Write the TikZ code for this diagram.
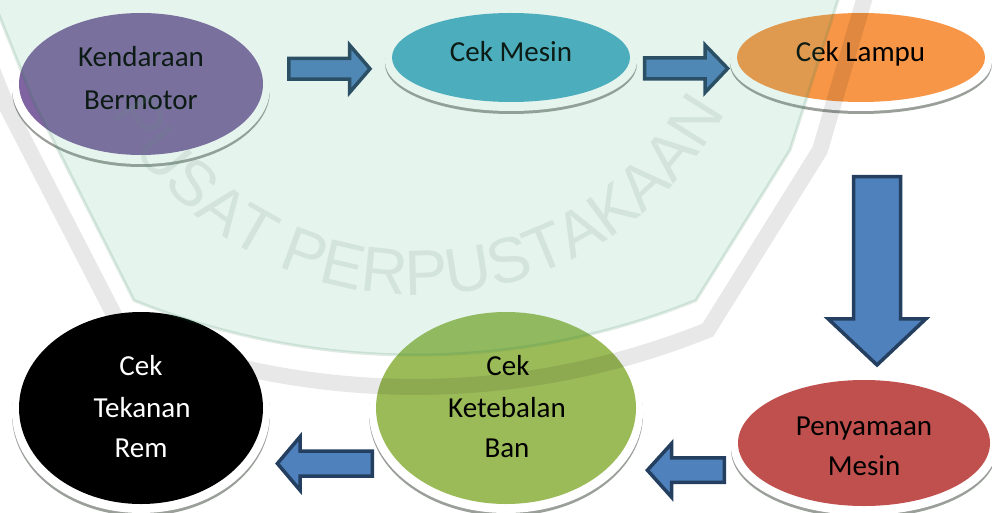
\documentclass[tikz,border=0pt]{standalone}
\usepackage{fontspec}
\setmainfont{Carlito}
\newfontfamily\wmfont{Liberation Sans}
\usetikzlibrary{shapes.geometric,decorations.text}
\definecolor{cpurple}{HTML}{8064A2}
\definecolor{cteal}{HTML}{4BACC6}
\definecolor{corange}{HTML}{F79646}
\definecolor{cred}{HTML}{C0504D}
\definecolor{cgreen}{HTML}{9BBB59}
\definecolor{arrfill}{HTML}{4F81BD}
\definecolor{arrline}{HTML}{243F60}
\definecolor{shadowgrey}{HTML}{9A9F9A}
\definecolor{wmgreen}{RGB}{88,182,141}
\definecolor{wmline}{RGB}{40,120,70}
\definecolor{wmtext}{RGB}{100,140,120}
\tikzset{
  ellbox/.style={ellipse, draw=none, inner sep=0pt, outer sep=0pt},
  lbl/.style={font=\fontsize{29}{35}\selectfont, anchor=base, inner sep=0pt, text=black},
  lblw/.style={lbl, text=white},
  blockarrow/.style={fill=arrfill, draw=arrline, line width=3.5pt, line join=miter}
}
\newcommand\bubble[6]{%
  \node[ellbox, fill=shadowgrey, minimum width={2*(#4+7)}, minimum height={2*(#5+5.5)}] (#1-shadow) at (#2,{-(#3+6.5)}) {};
  \node[ellbox, fill=white, minimum width={2*(#4+7)}, minimum height={2*(#5+5)}] (#1-plate) at (#2,{-(#3+4)}) {};
  \node[ellbox, fill=#6, minimum width={2*#4}, minimum height={2*#5}] (#1) at (#2,-#3) {};
}
\begin{document}
\begin{tikzpicture}[x=1pt,y=1pt]
\useasboundingbox (0,0) rectangle (992,-513);
\clip (0,0) rectangle (992,-513);
\fill[white] (0,0) rectangle (992,-513);

% bubbles
\bubble{kend}{141}{84}{122}{71}{cpurple}
\bubble{mesin}{511}{57.5}{119}{44.5}{cteal}
\bubble{lampu}{861}{57.5}{124}{44.5}{corange}
\bubble{penya}{864}{443}{126}{63}{cred}
\bubble{ban}{506}{408}{130}{96}{cgreen}
\bubble{rem}{141}{408}{122}{96}{black}

% labels
\node[lbl] (kendA) at (141,-67) {Kendaraan};
\node[lbl] (kendB) at (141,-110) {Bermotor};
\node[lbl] (mesinA) at (511,-62) {Cek Mesin};
\node[lbl] (lampuA) at (860.5,-62) {Cek Lampu};
\node[lbl] (penyaA) at (864,-435) {Penyamaan};
\node[lbl] (penyaB) at (864,-475) {Mesin};
\node[lbl] (banA) at (508,-375) {Cek};
\node[lbl] (banB) at (507,-417) {Ketebalan};
\node[lbl] (banC) at (507,-457) {Ban};
\node[lblw] (remA) at (141,-375) {Cek};
\node[lblw] (remB) at (142,-417) {Tekanan};
\node[lblw] (remC) at (141,-457) {Rem};

% block arrows
\draw[blockarrow] (288.8,-58.5) -- (349.5,-58.5) -- (349.5,-45) -- (370,-68.8) -- (349.5,-92.6) -- (349.5,-79.1) -- (288.8,-79.1) -- cycle;
\draw[blockarrow] (644.5,-57.8) -- (705,-57.8) -- (705,-45) -- (727.7,-68.5) -- (705,-92.5) -- (705,-79) -- (644.5,-79) -- cycle;
\draw[blockarrow] (853.5,-176.75) -- (900.5,-176.75) -- (900.5,-318.75) -- (926,-318.75) -- (877,-365) -- (828,-318.75) -- (853.5,-318.75) -- cycle;
\draw[blockarrow] (372.3,-451) -- (300,-451) -- (300,-436.8) -- (277.4,-463.5) -- (300,-490.2) -- (300,-476) -- (372.3,-476) -- cycle;
\draw[blockarrow] (724.3,-457.8) -- (671.6,-457.8) -- (671.6,-443.5) -- (647.4,-470.2) -- (671.6,-497.2) -- (671.6,-482.3) -- (724.3,-482.3) -- cycle;

% watermark overlay
\fill[wmgreen, fill opacity=0.15] (-20,30) -- (-7,0) -- (33,-100) -- (134,-300.4) arc[start angle=248, end angle=292, radius=750] -- (790,-150) -- (838,0) -- (848,30) -- cycle;
\draw[wmline, draw opacity=0.15, line width=3pt] (-20,30) -- (-7,0) -- (33,-100) -- (134,-300.4) arc[start angle=248, end angle=292, radius=750] -- (790,-150) -- (838,0) -- (848,30);
\draw[black, draw opacity=0.09, line width=16pt] (-47,30) -- (-36,0) -- (7,-107) -- (122,-330) arc[start angle=248, end angle=292, radius=782] -- (820,-150) -- (864,0) -- (875,30);
\begin{scope}[opacity=0.15]
\path[decorate, decoration={text along path, text align=center, text color=wmtext,
  text={|\wmfont\fontsize{64}{64}\selectfont|PUSAT PERPUSTAKAAN}}]
  (418,55) ++(200:350) arc[start angle=200, end angle=340, radius=350];
\end{scope}
\end{tikzpicture}
\end{document}
